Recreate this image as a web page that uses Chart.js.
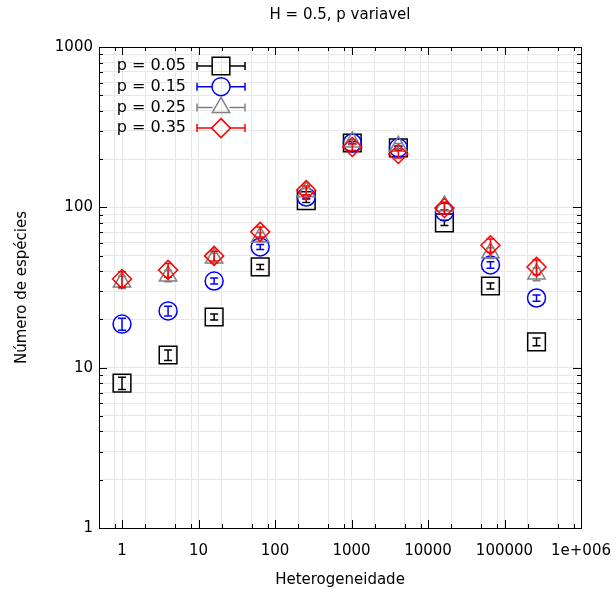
<!DOCTYPE html>
<html>
<head>
<meta charset="utf-8">
<script src="https://cdn.jsdelivr.net/npm/chart.js@4.4.1/dist/chart.umd.min.js"></script>
<style>
  html, body { margin: 0; padding: 0; background: #fff; }
  #wrap { width: 616px; height: 599px; }
</style>
</head>
<body>
<div id="wrap"><canvas id="chart"></canvas></div>
<script>
// dados
const heterogeneity = [1, 4, 16, 64, 256, 1024, 4096, 16384, 65536, 262144];
const seriesLabels = ['p = 0.05', 'p = 0.15', 'p = 0.25', 'p = 0.35'];

const species005 = [8.0, 12.0, 20.7, 42.5, 110, 252, 235, 80, 32.3, 14.5];
const species015 = [18.7, 22.6, 34.7, 56.6, 116, 252, 235, 93.6, 43.7, 27.2];
const species025 = [34.2, 37.3, 48.3, 65.4, 125, 256, 240, 102, 52, 38.4];
const species035 = [35.7, 40.7, 49.8, 70.3, 128, 238, 215, 99, 58, 42.5];

const err005 = [0.7, 0.9, 0.9, 1.5, 3, 5, 5, 3, 1.4, 0.8];
const err015 = [1.6, 1.6, 1.5, 2, 3, 5, 5, 3, 2, 1.2];
const err025 = [3, 3, 3.5, 4, 6, 10, 10, 6, 4, 3.5];
const err035 = [4, 4, 3.5, 5, 8, 12, 12, 8, 5.5, 4.5];

const xMajorTicks = [1, 10, 100, 1000, 10000, 100000, 1000000];
const xTickLabels = ['1', '10', '100', '1000', '10000', '100000', '1e+006'];
const xMinorSteps = [2, 5, 8];
const yMajorTicks = [1, 10, 100, 1000];
const yTickLabels = ['1', '10', '100', '1000'];
const yMinorSteps = [2, 3, 4, 5, 6, 7, 8, 9];

const FONT = '"DejaVu Sans", Verdana, sans-serif';

function buildTicks(majors, steps, min, max) {
  const vals = new Set(majors.filter(v => v >= min && v <= max));
  [0.1].concat(majors).forEach(m => {
    steps.forEach(s => {
      const v = +(m * s).toPrecision(6);
      if (v >= min && v <= max) vals.add(v);
    });
  });
  return Array.from(vals).sort((a, b) => a - b).map(v => ({ value: v }));
}

function makeSet(label, values, errors, color, style, radius, order) {
  return {
    label,
    data: heterogeneity.map((x, i) => ({ x, y: values[i] })),
    errors,
    borderColor: color,
    backgroundColor: 'rgba(0,0,0,0)',
    pointStyle: style,
    pointRadius: radius,
    pointHoverRadius: radius,
    pointBorderWidth: 1.5,
    showLine: false,
    order
  };
}

const datasets = [
  makeSet(seriesLabels[0], species005, err005, '#000000', 'rect', 12.5, 3),
  makeSet(seriesLabels[1], species015, err015, '#0000ff', 'circle', 9, 2),
  makeSet(seriesLabels[2], species025, err025, '#808080', 'triangle', 10, 1),
  makeSet(seriesLabels[3], species035, err035, '#ff0000', 'rectRot', 9.5, 0)
];

const gnuplotLook = {
  id: 'gnuplotLook',
  beforeDraw(chart) {
    const ctx = chart.ctx;
    ctx.save();
    ctx.fillStyle = '#fff';
    ctx.fillRect(0, 0, chart.width, chart.height);
    ctx.restore();
  },
  afterDatasetDraw(chart, args) {
    const ds = chart.data.datasets[args.index];
    const ys = chart.scales.y, xs = chart.scales.x;
    const ctx = chart.ctx;
    ctx.save();
    ctx.strokeStyle = ds.borderColor;
    ctx.lineWidth = 1.5;
    ds.data.forEach((p, i) => {
      const e = ds.errors[i];
      const px = xs.getPixelForValue(p.x);
      const top = ys.getPixelForValue(p.y + e);
      const bot = ys.getPixelForValue(p.y - e);
      ctx.beginPath();
      ctx.moveTo(px, top); ctx.lineTo(px, bot);
      ctx.moveTo(px - 4, top); ctx.lineTo(px + 4, top);
      ctx.moveTo(px - 4, bot); ctx.lineTo(px + 4, bot);
      ctx.stroke();
    });
    ctx.restore();
  },
  afterDraw(chart) {
    const ctx = chart.ctx;
    const a = chart.chartArea;
    const xs = chart.scales.x, ys = chart.scales.y;
    ctx.save();

    // ticks para dentro nos quatro lados
    ctx.strokeStyle = '#000';
    ctx.lineWidth = 1;
    ctx.beginPath();
    xs.ticks.forEach(t => {
      const px = Math.round(xs.getPixelForValue(t.value)) + 0.5;
      const len = xMajorTicks.includes(t.value) ? 8 : 4;
      ctx.moveTo(px, a.bottom); ctx.lineTo(px, a.bottom - len);
      ctx.moveTo(px, a.top); ctx.lineTo(px, a.top + len);
    });
    ys.ticks.forEach(t => {
      const py = Math.round(ys.getPixelForValue(t.value)) + 0.5;
      const len = yMajorTicks.includes(t.value) ? 8 : 4;
      ctx.moveTo(a.left, py); ctx.lineTo(a.left + len, py);
      ctx.moveTo(a.right, py); ctx.lineTo(a.right - len, py);
    });
    ctx.stroke();

    // moldura
    ctx.strokeRect(Math.round(a.left) + 0.5, Math.round(a.top) + 0.5,
      Math.round(a.right - a.left), Math.round(a.bottom - a.top));

    // titulos
    ctx.fillStyle = '#000';
    ctx.font = '15px ' + FONT;
    ctx.textAlign = 'center';
    ctx.textBaseline = 'middle';
    ctx.fillText('H = 0.5, p variavel', (a.left + a.right) / 2, 15);
    ctx.fillText('Heterogeneidade', (a.left + a.right) / 2, 580);
    ctx.save();
    ctx.translate(22, (a.top + a.bottom) / 2);
    ctx.rotate(-Math.PI / 2);
    ctx.fillText('Número de espécies', 0, 0);
    ctx.restore();

    // legenda estilo gnuplot
    ctx.font = '16px ' + FONT;
    chart.data.datasets.forEach((ds, i) => {
      const y = 66 + i * 20.7;
      ctx.fillStyle = '#000';
      ctx.textAlign = 'right';
      ctx.fillText(ds.label, 186, y);
      const x0 = 197, x1 = 245, xm = 221, gap = 8.5;
      ctx.strokeStyle = ds.borderColor;
      ctx.lineWidth = 1.5;
      ctx.beginPath();
      ctx.moveTo(x0, y); ctx.lineTo(xm - gap, y);
      ctx.moveTo(xm + gap, y); ctx.lineTo(x1, y);
      ctx.moveTo(x0, y - 4); ctx.lineTo(x0, y + 4);
      ctx.moveTo(x1, y - 4); ctx.lineTo(x1, y + 4);
      ctx.stroke();
      ctx.fillStyle = 'rgba(0,0,0,0)';
      Chart.helpers.drawPoint(ctx, {
        pointStyle: ds.pointStyle, radius: ds.pointRadius, rotation: 0, borderWidth: 1.5
      }, xm, y);
    });
    ctx.restore();
  }
};

new Chart(document.getElementById('chart'), {
  type: 'scatter',
  data: { datasets },
  options: {
    responsive: true,
    maintainAspectRatio: false,
    animation: false,
    events: [],
    layout: { padding: { left: 0, right: 35, top: 47, bottom: 0 } },
    plugins: { legend: { display: false }, tooltip: { enabled: false }, title: { display: false } },
    scales: {
      x: {
        type: 'logarithmic',
        min: 0.5,
        max: 1000000,
        afterBuildTicks(scale) { scale.ticks = buildTicks(xMajorTicks, xMinorSteps, scale.min, scale.max); },
        afterFit(scale) { scale.height = 71; scale.paddingLeft = 0; scale.paddingRight = 0; },
        grid: { color: '#e8e8e8', lineWidth: 1, drawTicks: false },
        border: { display: false },
        ticks: {
          autoSkip: false, maxRotation: 0, padding: 14,
          color: '#000', font: { family: FONT, size: 15 },
          callback(v) { const k = xMajorTicks.indexOf(v); return k >= 0 ? xTickLabels[k] : ''; }
        }
      },
      y: {
        type: 'logarithmic',
        min: 1,
        max: 1000,
        afterBuildTicks(scale) { scale.ticks = buildTicks(yMajorTicks, yMinorSteps, scale.min, scale.max); },
        afterFit(scale) { scale.width = 99; scale.paddingTop = 0; scale.paddingBottom = 0; },
        grid: { color: '#e8e8e8', lineWidth: 1, drawTicks: false },
        border: { display: false },
        ticks: {
          autoSkip: false, padding: 6,
          color: '#000', font: { family: FONT, size: 15 },
          callback(v) { const k = yMajorTicks.indexOf(v); return k >= 0 ? yTickLabels[k] : ''; }
        }
      }
    }
  },
  plugins: [gnuplotLook]
});
</script>
</body>
</html>
